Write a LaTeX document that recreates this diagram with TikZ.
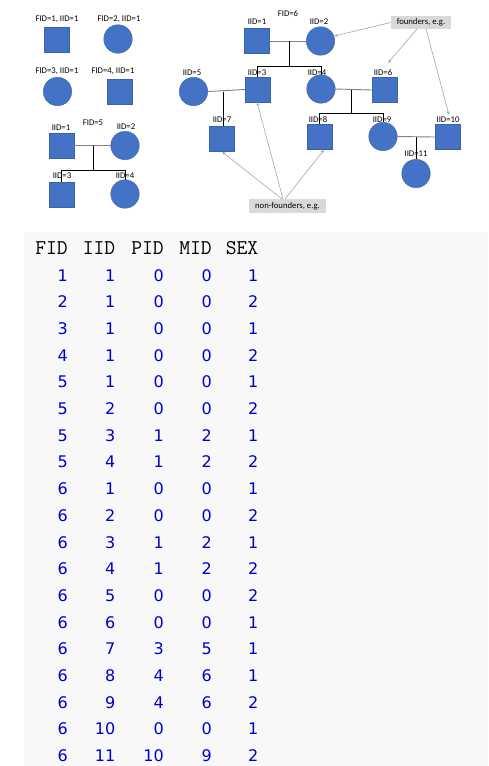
\documentclass[tikz,border=0pt]{standalone}
\usepackage{fontspec}
\setmainfont{Carlito}
\newfontfamily\digitfont{DejaVu Sans}
\usetikzlibrary{arrows.meta}
\definecolor{pedblue}{HTML}{4472C4}
\definecolor{pededge}{HTML}{3A63AE}
\definecolor{numblue}{RGB}{0,0,204}
\definecolor{tablebg}{HTML}{F8F8F8}
\definecolor{boxgray}{HTML}{D9D9D9}
\definecolor{arrgray}{HTML}{A6A6A6}
\definecolor{margray}{HTML}{808080}
\tikzset{
  male/.style={rectangle,fill=pedblue,draw=pededge,line width=0.4pt,minimum size=25pt,inner sep=0pt},
  female/.style={circle,fill=pedblue,draw=pededge,line width=0.4pt,minimum size=28.5pt,inner sep=0pt},
  lab/.style={inner sep=0pt,font=\fontsize{8.7}{10}\selectfont},
  notebox/.style={fill=boxgray,inner sep=0pt,font=\fontsize{8.7}{10}\selectfont},
  marline/.style={draw=margray,line width=0.9pt},
  kidline/.style={draw=black,line width=0.8pt},
  arr/.style={draw=arrgray,line width=0.6pt,-{Stealth[length=4pt,width=3pt]}},
  hdr/.style={inner sep=0pt,anchor=base east,font=\ttfamily\fontsize{21}{24}\selectfont},
  num/.style={inner sep=0pt,anchor=base east,text=numblue,font=\digitfont\fontsize{16}{19}\selectfont}
}
\begin{document}
\begin{tikzpicture}[x=1pt,y=-1pt]
\useasboundingbox (0,0) rectangle (488,766);
\fill[white] (0,0) rectangle (488,766);
% ---------- single-person families ----------
\node[lab] (l1) at (57,19) {FID=1, IID=1};
\node[male] (p1) at (57,39.5) {};
\node[lab] (l2) at (119,19) {FID=2, IID=1};
\node[female] (p2) at (118,39) {};
\node[lab] (l3) at (57,71) {FID=3, IID=1};
\node[female] (p3) at (57.5,91.5) {};
\node[lab] (l4) at (113,71) {FID=4, IID=1};
\node[male] (p4) at (120,91.5) {};
% ---------- FID=5 ----------
\node[lab] (f5) at (93,123) {FID=5};
\node[male] (b1) at (61.5,145.5) {};
\node[female] (b2) at (125,145.5) {};
\node[male] (b3) at (61.5,194.5) {};
\node[female] (b4) at (125,194) {};
\coordinate (m5) at (93,145.5);
\coordinate (s5) at (93,170);
\coordinate (s5l) at (61.5,170);
\coordinate (s5r) at (125,170);
\draw[marline] (b1.east) -- (b2.west);
\draw[kidline] (m5) -- (s5);
\draw[kidline] (b3.north) -- (s5l) -- (s5r) -- (b4.north);
\node[lab] (lb1) at (61,128) {IID=1};
\node[lab] (lb2) at (126,127) {IID=2};
\node[lab] (lb3) at (62,176) {IID=3};
\node[lab] (lb4) at (125,176) {IID=4};
% ---------- FID=6 ----------
\node[lab] (f6) at (288,14) {FID=6};
\node[male] (a1) at (256.5,41) {};
\node[female] (a2) at (320.5,41) {};
\node[female] (a5) at (193.5,91.5) {};
\node[male] (a3) at (257.5,89.5) {};
\node[female] (a4) at (321,89) {};
\node[male] (a6) at (384.5,90) {};
\node[male] (a7) at (222,139) {};
\node[male] (a8) at (319.5,137) {};
\node[female] (a9) at (383,136.5) {};
\node[male] (a10) at (447.5,137) {};
\node[female] (a11) at (416,173.5) {};
% couple 1-2
\coordinate (m12) at (289,41);
\coordinate (s12) at (289,66);
\coordinate (s12l) at (257.5,66);
\coordinate (s12r) at (321,66);
\draw[marline] (a1.east) -- (a2.west);
\draw[kidline] (m12) -- (s12);
\draw[kidline] (a3.north) -- (s12l) -- (s12r) -- (a4.north);
% couple 5-3
\coordinate (m53) at (223,91.5);
\draw[marline] (a5.east) -- (a3.west);
\draw[kidline] (m53) -- (a7.north -| m53);
% couple 4-6
\coordinate (m46) at (351,89.5);
\coordinate (s46) at (351,113);
\coordinate (s46l) at (319.5,113);
\coordinate (s46r) at (383,113);
\draw[marline] (a4.east) -- (a6.west);
\draw[kidline] (m46) -- (s46);
\draw[kidline] (a8.north) -- (s46l) -- (s46r) -- (a9.north);
% couple 9-10
\coordinate (m910) at (416,137);
\draw[marline] (a9.east) -- (a10.west);
\draw[kidline] (m910) -- (a11.north);
% labels
\node[lab] (la1) at (257,22) {IID=1};
\node[lab] (la2) at (319,22) {IID=2};
\node[lab] (la5) at (192,73) {IID=5};
\node[lab] (la3) at (257,73) {IID=3};
\node[lab] (la4) at (317,73) {IID=4};
\node[lab] (la6) at (383,73) {IID=6};
\node[lab] (la7) at (222,120) {IID=7};
\node[lab] (la8) at (318,120) {IID=8};
\node[lab] (la9) at (382,120) {IID=9};
\node[lab] (la10) at (448,120) {IID=10};
\node[lab] (la11) at (416,154) {IID=11};
% notes
\node[notebox,minimum width=60pt,minimum height=13pt] (fnd) at (421,22.5) {founders, e.g.};
\node[notebox,minimum width=77pt,minimum height=14pt] (nfd) at (287.5,206) {non-founders, e.g.};
\coordinate (fs2) at (417,29);
\coordinate (fs3) at (426,29);
\coordinate (ft6) at (388,63);
\coordinate (ft10) at (449,115);
\coordinate (t3) at (257,102);
\draw[arr] (fnd.west) -- (a2.20);
\draw[arr] (fs2) -- (ft6);
\draw[arr] (fs3) -- (ft10);
\coordinate (ns1) at (282,199);
\coordinate (ns2) at (283,199);
\coordinate (ns3) at (285,199);
\draw[arr] (ns1) -- (a7.south);
\draw[arr] (ns2) -- (t3);
\draw[arr] (ns3) -- (a8.-70);
% ---------- table ----------
\fill[tablebg] (24,232) rectangle (488,766);
\node[hdr] (h1) at (68,254.3) {FID};
\node[hdr] (h2) at (115.5,254.3) {IID};
\node[hdr] (h3) at (164,254.3) {PID};
\node[hdr] (h4) at (212,254.3) {MID};
\node[hdr] (h5) at (258.5,254.3) {SEX};
\foreach \f/\i/\p/\m/\s [count=\r from 0] in {1/1/0/0/1,2/1/0/0/2,3/1/0/0/1,4/1/0/0/2,5/1/0/0/1,5/2/0/0/2,5/3/1/2/1,5/4/1/2/2,6/1/0/0/1,6/2/0/0/2,6/3/1/2/1,6/4/1/2/2,6/5/0/0/2,6/6/0/0/1,6/7/3/5/1,6/8/4/6/1,6/9/4/6/2,6/10/0/0/1,6/11/10/9/2}{
  \pgfmathsetmacro{\yy}{281.3+\r*26.67}
  \node[num] (r\r c1) at (68,\yy) {\f};
  \node[num] (r\r c2) at (115.5,\yy) {\i};
  \node[num] (r\r c3) at (164,\yy) {\p};
  \node[num] (r\r c4) at (212,\yy) {\m};
  \node[num] (r\r c5) at (258.5,\yy) {\s};
}
\end{tikzpicture}
\end{document}
